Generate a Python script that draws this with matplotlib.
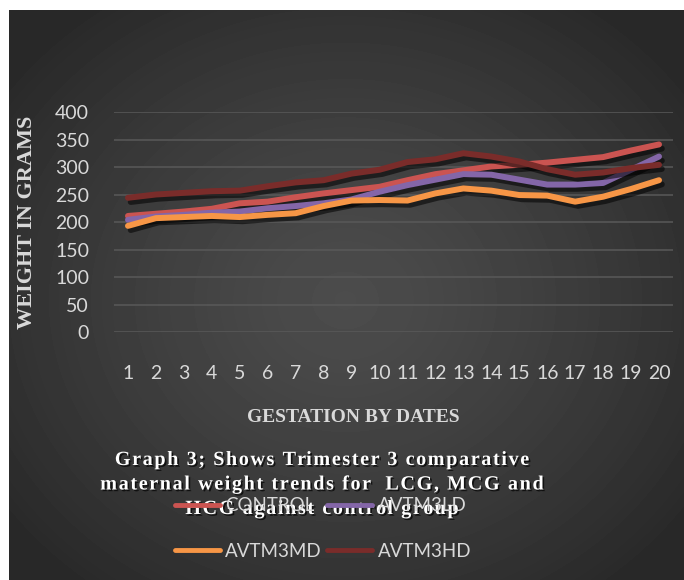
# maternal weight trends, trimester 3
import numpy as np
import matplotlib
matplotlib.use("Agg")
import matplotlib.pyplot as plt
import matplotlib.patheffects as pe
from matplotlib.font_manager import FontProperties

W, H = 684, 580

days = list(range(1, 21))
control = [211, 215, 219, 224, 234, 237, 245, 252, 258, 264, 276, 287, 294, 301, 304, 308, 313, 318, 330, 341]
avtm3ld = [204, 210, 213, 217, 219, 225, 229, 234, 241, 255, 267, 277, 287, 286, 277, 268, 268, 271, 295, 319]
avtm3md = [193, 207, 209, 211, 209, 213, 216, 229, 239, 240, 239, 252, 261, 257, 249, 248, 237, 246, 260, 276]
avtm3hd = [244, 250, 253, 256, 257, 265, 272, 276, 288, 295, 309, 314, 325, 319, 310, 296, 286, 290, 298, 304]

title_lines = ["Graph 3; Shows Trimester 3 comparative",
               "maternal weight trends for  LCG, MCG and",
               "HCG against control group"]

TXT = "#d9d9d9"

fig = plt.figure(figsize=(W / 100, H / 100), dpi=100, facecolor="white")

# radial gradient panel behind everything
bg = fig.add_axes([0, 0, 1, 1], zorder=-10)
bg.set_xlim(0, W)
bg.set_ylim(H, 0)
bg.axis("off")
yy, xx = np.mgrid[10:H, 9:W]
r = np.hypot(xx - 345, (yy - 300) * 1.15) / 430
r = np.clip(r, 0, 1)
light, dark = 0x4c / 255, 0x28 / 255
shade = light - (light - dark) * r ** 1.3
bg.imshow(shade, cmap="gray", vmin=0, vmax=1, extent=(9, W, H, 10),
          interpolation="bilinear", aspect="auto")

ax = fig.add_axes([114 / W, 1 - 332 / H, 559 / W, 220 / H])
ax.set_facecolor("none")

shadow = [pe.SimpleLineShadow(offset=(2, -3), alpha=0.55, shadow_color="black"), pe.Normal()]
series = [("CONTROL", control, "#cb5451"),
          ("AVTM3LD", avtm3ld, "#8466a8"),
          ("AVTM3MD", avtm3md, "#f79646"),
          ("AVTM3HD", avtm3hd, "#7a2c2a")]
lines = {}
for name, vals, col in series:
    ln, = ax.plot(days, vals, color=col, lw=4.3, solid_capstyle="round",
                  solid_joinstyle="round", path_effects=shadow, label=name)
    lines[name] = ln

ax.set_xlim(0.5, 20.5)
ax.set_ylim(0, 400)
ax.set_yticks(range(0, 401, 50))
ax.set_xticks(days)
ax.grid(axis="y", color="#595959", lw=1.1)
ax.set_axisbelow(True)
for s in ax.spines.values():
    s.set_visible(False)
ax.tick_params(axis="y", length=0, pad=18, labelsize=14, labelcolor=TXT)
ax.tick_params(axis="x", length=0, pad=24, labelsize=14, labelcolor=TXT)
for lab in ax.get_xticklabels() + ax.get_yticklabels():
    lab.set_family("Lato")

serif_b = dict(family="Liberation Serif", weight="bold", color=TXT)
ax.set_ylabel("WEIGHT IN GRAMS", fontsize=16, va="center", **serif_b)
ax.yaxis.set_label_coords(-0.156, 0.5)
ax.set_xlabel("GESTATION BY DATES", fontsize=14, va="center", **serif_b)
ax.xaxis.set_label_coords((353 - 114) / 559, (332 - 418) / 220)

# letter spaced title, placed char by char
renderer = fig.canvas.get_renderer()
fp = FontProperties(family="Liberation Serif", weight="bold", size=14.5)


def width(s):
    w1 = renderer.get_text_width_height_descent(s + "I", fp, ismath=False)[0]
    w2 = renderer.get_text_width_height_descent("I", fp, ismath=False)[0]
    return w1 - w2


track = 1.6
title_fx = [pe.withSimplePatchShadow(offset=(1.2, -1.2), shadow_rgbFace="black", alpha=0.7)]
for line, base in zip(title_lines, [465, 489.5, 514]):
    total = width(line) + track * (len(line) - 1)
    x0 = 322 - total / 2
    for i, ch in enumerate(line):
        if ch == " ":
            continue
        x = x0 + width(line[:i]) + track * i
        fig.text(x / W, 1 - base / H, ch, fontproperties=fp, color="white",
                 ha="left", va="baseline", path_effects=title_fx)

order = ["CONTROL", "AVTM3MD", "AVTM3LD", "AVTM3HD"]
leg = fig.legend([lines[n] for n in order], order, loc="center",
                 bbox_to_anchor=(323 / W, 1 - 528.5 / H), ncol=2, frameon=False,
                 prop=FontProperties(family="Lato", size=13.5), labelcolor=TXT,
                 handlelength=2.4, handletextpad=0.3, columnspacing=0.3,
                 labelspacing=1.5)
for h in leg.legend_handles:
    h.set_path_effects([])
    h.set_linewidth(3.5)

fig.savefig("out.png", dpi=100, facecolor="white")
